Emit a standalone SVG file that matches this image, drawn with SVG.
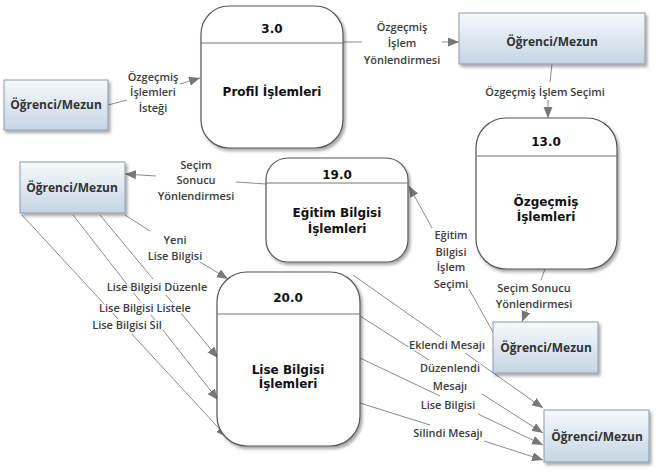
<svg xmlns="http://www.w3.org/2000/svg" width="664" height="473" viewBox="0 0 664 473">
<defs>
<linearGradient id="eg" x1="0" y1="0" x2="0" y2="1">
<stop offset="0" stop-color="#f6f9fc"/>
<stop offset="1" stop-color="#c5d5e4"/>
</linearGradient>
<filter id="sh" x="-10%" y="-10%" width="130%" height="130%">
<feDropShadow dx="2" dy="2.5" stdDeviation="1.5" flood-color="#000" flood-opacity="0.35"/>
</filter>
<marker id="ar" markerUnits="userSpaceOnUse" markerWidth="12" markerHeight="10" refX="11" refY="4.5" orient="auto">
<path d="M0,0 L11,4.5 L0,9 Z" fill="#777"/>
</marker>
</defs>
<style>
.proc{fill:#fff;stroke:#555;stroke-width:1.2;filter:url(#sh)}
.hdr{stroke:#777;stroke-width:1}
.ent{fill:url(#eg);stroke:#8a9aac;stroke-width:1;filter:url(#sh)}
.pt{font-family:"DejaVu Sans",Verdana,sans-serif;font-weight:bold;font-size:12px;fill:#111;text-anchor:middle}
.et{font-family:"Open Sans",sans-serif;font-weight:700;font-size:12px;fill:#333;text-anchor:middle}
.lb{font-family:"Open Sans",sans-serif;font-weight:600;font-size:11px;fill:#3c3c3c;text-anchor:middle;stroke:#fff;stroke-width:3;paint-order:stroke;stroke-linejoin:round}
.ln{fill:none;stroke:#8a8a8a;stroke-width:1}
.la{fill:none;stroke:#8a8a8a;stroke-width:1;marker-end:url(#ar)}
</style>
<g id="connectors">
<path class="ln" d="M108,105 L127,100"/>
<path class="la" d="M180,84 L200,78"/>
<path class="ln" d="M343,42 L362,42"/>
<path class="la" d="M442,42 L459,42"/>
<path class="ln" d="M552,64 L550,82"/>
<path class="la" d="M548,100 L548,118"/>
<path class="ln" d="M266,184 L236,182"/>
<path class="la" d="M156,176 L125,174"/>
<path class="ln" d="M125,215 L150,231"/>
<path class="la" d="M200,262 L228,279"/>
<path class="ln" d="M100,215 L153,279"/>
<path class="la" d="M166,295 L218,358"/>
<path class="ln" d="M73,215 L140,301"/>
<path class="la" d="M151,315 L218,400"/>
<path class="ln" d="M22,215 L118,319"/>
<path class="la" d="M129,331 L227,437"/>
<path class="ln" d="M545,269 L541,280"/>
<path class="la" d="M527,309 L522,322"/>
<path class="ln" d="M494,334 L469,289"/>
<path class="la" d="M432,228 L409,186"/>
<path class="ln" d="M353,275 L441,337"/>
<path class="la" d="M465,353 L543,408"/>
<path class="ln" d="M360,316 L429,360"/>
<path class="la" d="M482,394 L543,433"/>
<path class="ln" d="M360,358 L440,396"/>
<path class="la" d="M478,414 L543,445"/>
<path class="ln" d="M360,403 L430,425"/>
<path class="la" d="M484,441 L543,460"/>
</g>
<g id="labels">
<text class="lb" x="153" y="81">Özgeçmiş</text>
<text class="lb" x="153" y="96">İşlemleri</text>
<text class="lb" x="153" y="112">İsteği</text>
<text class="lb" x="402" y="31">Özgeçmiş</text>
<text class="lb" x="402" y="47">İşlem</text>
<text class="lb" x="402" y="64">Yönlendirmesi</text>
<text class="lb" x="545" y="96">Özgeçmiş İşlem Seçimi</text>
<text class="lb" x="196" y="169">Seçim</text>
<text class="lb" x="196" y="184">Sonucu</text>
<text class="lb" x="196" y="200">Yönlendirmesi</text>
<text class="lb" x="175" y="244">Yeni</text>
<text class="lb" x="175" y="260">Lise Bilgisi</text>
<text class="lb" x="157" y="291">Lise Bilgisi Düzenle</text>
<text class="lb" x="145" y="312">Lise Bilgisi Listele</text>
<text class="lb" x="127" y="329">Lise Bilgisi Sil</text>
<text class="lb" x="534" y="292">Seçim Sonucu</text>
<text class="lb" x="534" y="308">Yönlendirmesi</text>
<text class="lb" x="451" y="239">Eğitim</text>
<text class="lb" x="451" y="256">Bilgisi</text>
<text class="lb" x="451" y="271">İşlem</text>
<text class="lb" x="451" y="288">Seçimi</text>
<text class="lb" x="447" y="349">Eklendi Mesajı</text>
<text class="lb" x="450" y="372">Düzenlendi</text>
<text class="lb" x="450" y="390">Mesajı</text>
<text class="lb" x="448" y="409">Lise Bilgisi</text>
<text class="lb" x="448" y="437">Silindi Mesajı</text>
</g>
<g id="p3">
<rect class="proc" x="201" y="6" width="142" height="142" rx="28"/>
<line class="hdr" x1="201" y1="43" x2="343" y2="43"/>
<text class="pt" x="272" y="33">3.0</text>
<text class="pt" x="272" y="96">Profil İşlemleri</text>
</g>
<g id="p13">
<rect class="proc" x="476" y="118" width="141" height="151" rx="30"/>
<line class="hdr" x1="476" y1="156" x2="617" y2="156"/>
<text class="pt" x="546" y="146">13.0</text>
<text class="pt" x="546" y="206">Özgeçmiş</text>
<text class="pt" x="546" y="221">İşlemleri</text>
</g>
<g id="p19">
<rect class="proc" x="266" y="158" width="142" height="104" rx="22"/>
<line class="hdr" x1="266" y1="183" x2="408" y2="183"/>
<text class="pt" x="337" y="179">19.0</text>
<text class="pt" x="337" y="217">Eğitim Bilgisi</text>
<text class="pt" x="337" y="233">İşlemleri</text>
</g>
<g id="p20">
<rect class="proc" x="217" y="272" width="143" height="174" rx="30"/>
<line class="hdr" x1="217" y1="314" x2="360" y2="314"/>
<text class="pt" x="288" y="302">20.0</text>
<text class="pt" x="288" y="374">Lise Bilgisi</text>
<text class="pt" x="288" y="388">İşlemleri</text>
</g>
<g id="e1">
<rect class="ent" x="4" y="80" width="104" height="50"/>
<text class="et" x="56" y="109">Öğrenci/Mezun</text>
</g>
<g id="e2">
<rect class="ent" x="459" y="13" width="186" height="51"/>
<text class="et" x="552" y="46">Öğrenci/Mezun</text>
</g>
<g id="e3">
<rect class="ent" x="20" y="162" width="105" height="51"/>
<text class="et" x="72" y="192">Öğrenci/Mezun</text>
</g>
<g id="e4">
<rect class="ent" x="493" y="322" width="105" height="51"/>
<text class="et" x="546" y="352">Öğrenci/Mezun</text>
</g>
<g id="e5">
<rect class="ent" x="544" y="410" width="105" height="52"/>
<text class="et" x="597" y="441">Öğrenci/Mezun</text>
</g>
</svg>
